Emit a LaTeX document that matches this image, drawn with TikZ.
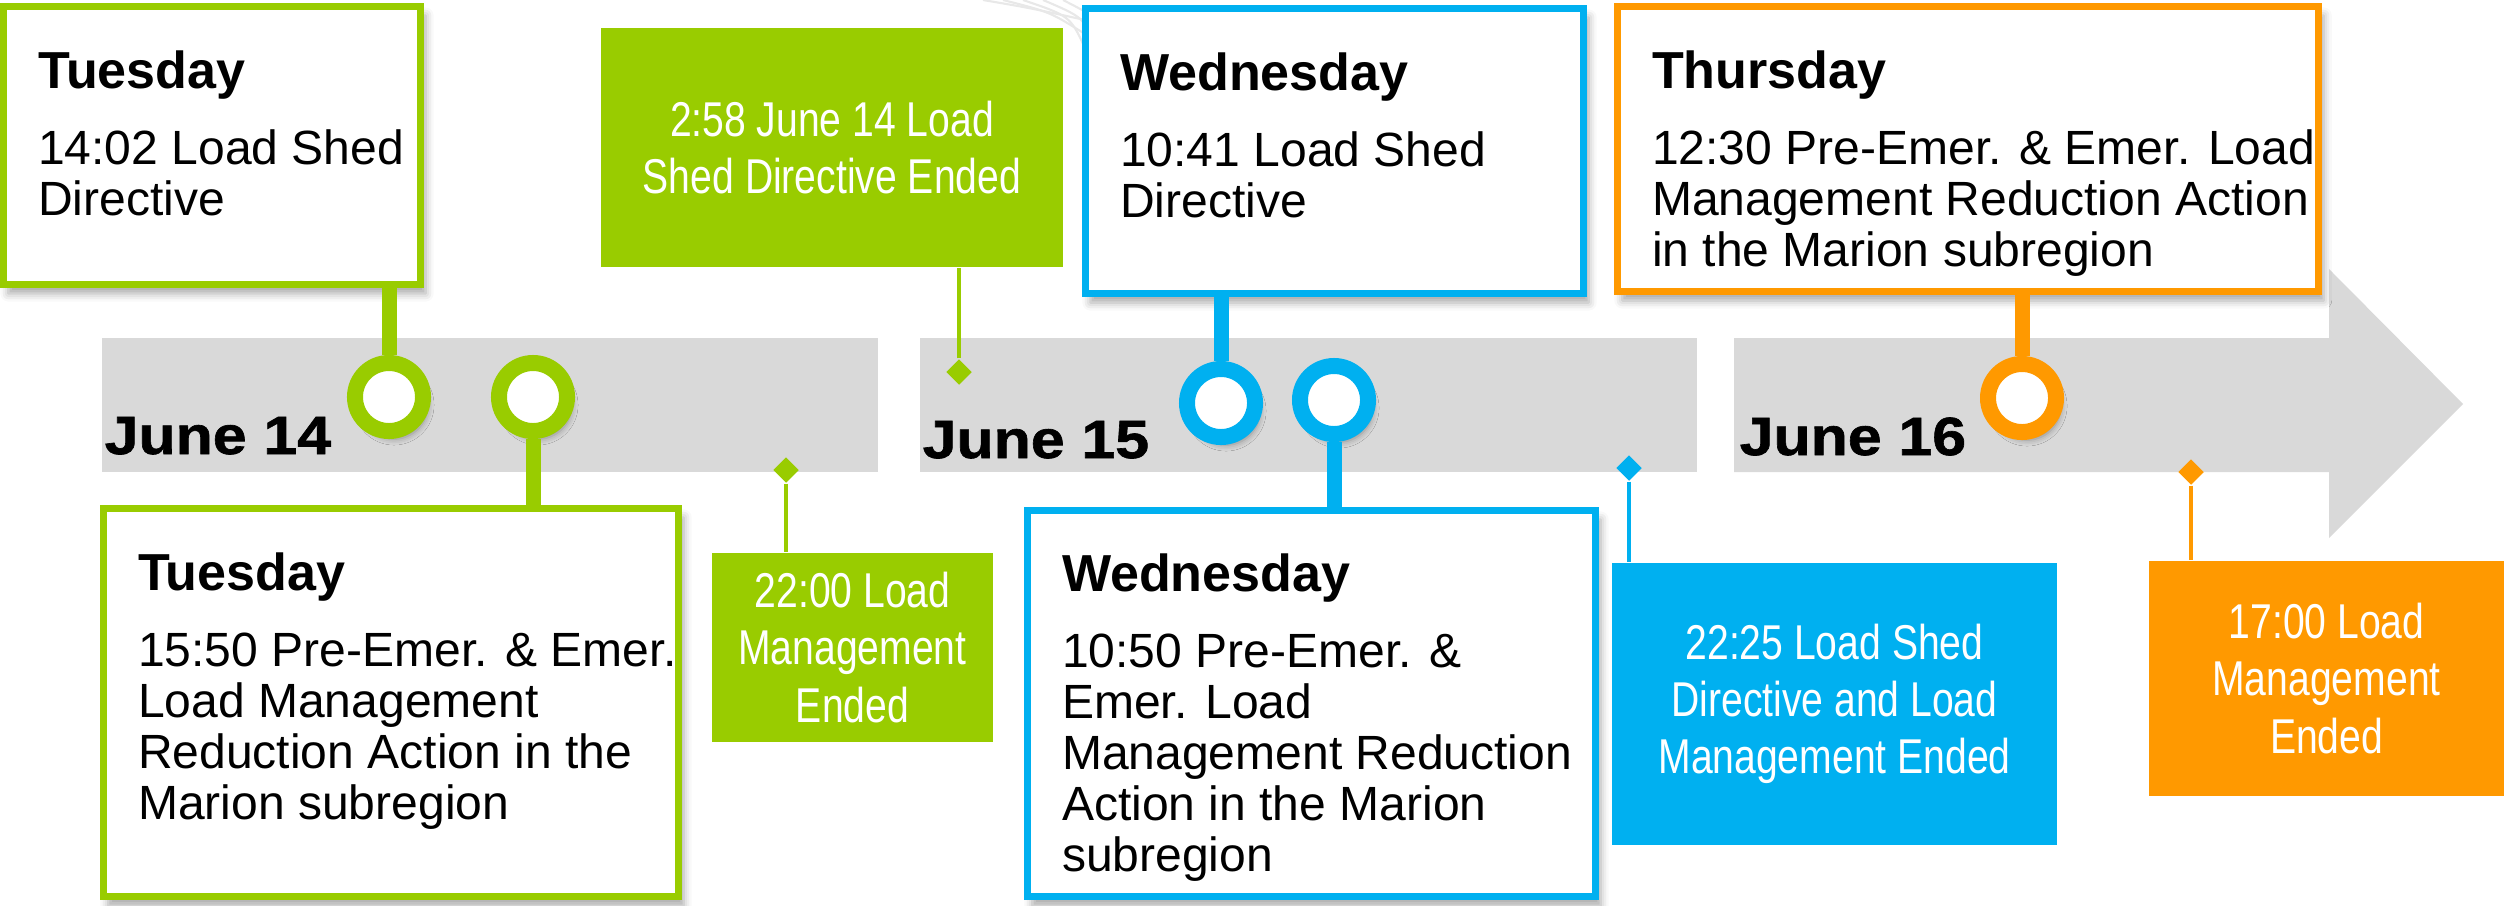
\documentclass[tikz,border=0pt]{standalone}
\usepackage{fontspec}
\setmainfont{Liberation Sans}
\newfontfamily\narrowfont[FakeStretch=0.8]{Liberation Sans}
\newfontfamily\datefont[FakeStretch=1.13,FakeBold=1.2]{Liberation Sans}
\usetikzlibrary{shapes.geometric,shadows.blur}

\definecolor{tlgreen}{HTML}{99CC00}
\definecolor{tlblue}{HTML}{00B0F0}
\definecolor{tlorange}{HTML}{FF9900}
\definecolor{tlgray}{HTML}{D9D9D9}

\newcommand{\dayhead}[1]{{\bfseries\fontsize{14.8}{14.8}\selectfont #1}}

\tikzset{
 card/.style={rectangle, draw=#1, line width=2pt, fill=white, inner sep=0pt,
   blur shadow={shadow xshift=0.5mm, shadow yshift=-0.9mm, shadow blur radius=0.8mm, shadow opacity=35}},
 tag/.style={rectangle, fill=#1, text=white, inner sep=0pt, align=center,
   font=\narrowfont\fontsize{13.9}{16.3}\selectfont},
 cardtext/.style={anchor=north west, inner sep=0pt, align=left,
   font=\fontsize{13.66}{14.5}\selectfont},
 ring/.style={circle, draw=#1, line width=1.6mm, fill=white, minimum size=6.8mm, inner sep=0pt,
   blur shadow={shadow xshift=0.5mm, shadow yshift=-0.8mm, shadow blur radius=0.6mm, shadow opacity=35}},
 stem/.style={draw=#1, line width=1.5mm},
 pin/.style={draw=#1, line width=0.45mm},
 tip/.style={diamond, fill=#1, minimum width=2.6mm, minimum height=2.6mm, inner sep=0pt},
 datelbl/.style={anchor=base west, inner sep=0pt, font=\datefont\bfseries\fontsize{15.3}{16}\selectfont},
 swoosh/.style={draw=gray!18, line width=0.6pt}
}

\begin{document}
\begin{tikzpicture}[x=0.01cm,y=-0.01cm]
\useasboundingbox (0,0) rectangle (2504,905);

% faint lines at the top
\foreach \i in {0,...,4}
 \draw[swoosh] (983+20*\i,0) .. controls (1030+20*\i,8+4*\i) .. (1085,20+14*\i);

% time bar
\fill[tlgray] (102,338) rectangle (878,472);
\fill[tlgray] (920,338) rectangle (1697,472);
\fill[tlgray] (1734,338) -- (2329,338) -- (2329,269) -- (2463,404)
  -- (2329,538) -- (2329,472) -- (1734,472) -- cycle;

\node[datelbl] (jun14) at (104,454) {June 14};
\node[datelbl] (jun15) at (922,458) {June 15};
\node[datelbl] (jun16) at (1739,455) {June 16};

% cards
\node[card=tlgreen, minimum width=41.7mm, minimum height=27.8mm] (tueA) at (212,145.5) {};
\node[cardtext] (tueAtxt) at ([xshift=3.75mm,yshift=-4.75mm]tueA.north west)
 {\dayhead{Tuesday}\\[2.5mm]14:02 Load Shed\\Directive};

\node[card=tlgreen, minimum width=57.5mm, minimum height=38.8mm] (tueB) at (391,702.5) {};
\node[cardtext] (tueBtxt) at ([xshift=3.75mm,yshift=-4.75mm]tueB.north west)
 {\dayhead{Tuesday}\\[2.5mm]15:50 Pre-Emer. \& Emer.\\Load Management\\Reduction Action in the\\Marion subregion};

\node[card=tlblue, minimum width=49.8mm, minimum height=28.5mm] (wedA) at (1334.5,151) {};
\node[cardtext] (wedAtxt) at ([xshift=3.75mm,yshift=-4.75mm]wedA.north west)
 {\dayhead{Wednesday}\\[2.5mm]10:41 Load Shed\\Directive};

\node[card=tlblue, minimum width=56.8mm, minimum height=38.6mm] (wedB) at (1311.5,703.5) {};
\node[cardtext] (wedBtxt) at ([xshift=3.75mm,yshift=-4.6mm]wedB.north west)
 {\dayhead{Wednesday}\\[2.5mm]10:50 Pre-Emer. \&\\Emer. Load\\Management Reduction\\Action in the Marion\\subregion};

\node[card=tlorange, minimum width=70.1mm, minimum height=28.5mm] (thuA) at (1968,149) {};
\node[cardtext] (thuAtxt) at ([xshift=3.75mm,yshift=-4.75mm]thuA.north west)
 {\dayhead{Thursday}\\[2.5mm]12:30 Pre-Emer. \& Emer. Load\\Management Reduction Action\\in the Marion subregion};

% end tags
\node[tag=tlgreen, minimum width=46.2mm, minimum height=23.9mm] (endA) at (832,147.5)
 {2:58 June 14 Load\\Shed Directive Ended};
\node[tag=tlgreen, minimum width=28.1mm, minimum height=18.9mm] (endB) at (852.5,647.5)
 {22:00 Load\\Management\\Ended};
\node[tag=tlblue, minimum width=44.5mm, minimum height=28.2mm] (endC) at (1834.5,704)
 {22:25 Load Shed\\Directive and Load\\Management Ended};
\node[tag=tlorange, minimum width=35.5mm, minimum height=23.5mm] (endD) at (2326.5,678.5)
 {17:00 Load\\Management\\Ended};

% rings and stems
\node[ring=tlgreen] (r1) at (389,397) {};
\node[ring=tlgreen] (r2) at (533,397) {};
\node[ring=tlblue] (r3) at (1221,403) {};
\node[ring=tlblue] (r4) at (1334,400) {};
\node[ring=tlorange] (r5) at (2022,398) {};

\draw[stem=tlgreen] (r1.north) -- (r1 |- tueA.south);
\draw[stem=tlgreen] (r2.south) -- (r2 |- tueB.north);
\draw[stem=tlblue] (r3.north) -- (r3 |- wedA.south);
\draw[stem=tlblue] (r4.south) -- (r4 |- wedB.north);
\draw[stem=tlorange] (r5.north) -- (r5 |- thuA.south);

% diamonds and pins
\node[tip=tlgreen] (d1) at (959,372) {};
\node[tip=tlgreen] (d2) at (786,470) {};
\node[tip=tlblue] (d3) at (1629,468) {};
\node[tip=tlorange] (d4) at (2191,472) {};

\draw[pin=tlgreen] (d1.north) -- (d1 |- endA.south);
\draw[pin=tlgreen] (d2.south) -- (d2 |- endB.north);
\draw[pin=tlblue] (d3.south) -- (d3 |- endC.north);
\draw[pin=tlorange] (d4.south) -- (d4 |- endD.north);
\end{tikzpicture}
\end{document}
